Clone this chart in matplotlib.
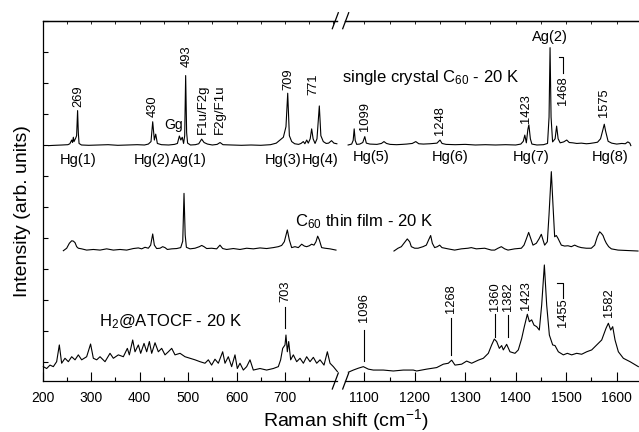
import numpy as np
import matplotlib

matplotlib.use("Agg")
import matplotlib.pyplot as plt
from matplotlib.lines import Line2D

# Spectra: (Raman shift in cm-1, intensity in arb. units).
# Each trace is stored relative to its own baseline; the vertical stacking is done when plotting.

# single crystal C60 - 20 K
crystal_low = [
    (212, -0.02), (225, -0.01), (240, 0.0), (252, 0.01), (256, 0.04), (259.8, 0.16),
    (261.5, 0.08), (263.2, 0.25), (264.6, 0.11), (268, 0.22), (270, 0.30), (272, 1.11),
    (273.5, 0.40), (275, 0.05), (280, 0.0), (295, -0.01), (315, 0.0), (335, 0.01),
    (355, -0.01), (375, 0.0), (395, 0.01), (410, 0.0), (418, 0.03), (423.5, 0.11),
    (427, 0.75), (430.4, 0.16), (433.2, 0.35), (436.6, 0.05), (445, 0.01), (460, 0.0),
    (472, 0.02), (478, 0.05), (482, 0.29), (485, 0.16), (488, 0.25), (490.7, 0.05),
    (493, 0.30), (495, 2.24), (497, 0.40), (499, 0.06), (505, 0.0), (515, 0.01),
    (522, 0.04), (528, 0.19), (533, 0.08), (540, 0.03), (550, 0.0), (560, 0.02),
    (566, 0.08), (572, 0.01), (590, 0.0), (610, -0.01), (630, 0.0), (650, -0.01),
    (670, 0.01), (682, 0.06), (689.7, 0.16), (696.6, 0.25), (702, 0.59), (705.6, 1.67),
    (709, 0.30), (713.8, 0.11), (720, 0.04), (728, 0.02), (733, 0.05), (737.8, 0.11),
    (741, 0.04), (744.8, 0.16), (748, 0.06), (752, 0.20), (755, 0.52), (758, 0.20),
    (762, 0.05), (766, 0.20), (770.8, 1.26), (774, 0.30), (779, 0.11), (785, 0.05),
    (790, 0.06), (796, 0.14), (801, 0.06), (807, 0.04),
]
crystal_high = [
    (1068, 0.0), (1075, 0.03), (1078, 0.15), (1080, 0.52), (1082, 0.15), (1085, 0.02),
    (1091, 0.03), (1097, 0.08), (1101, 0.27), (1104, 0.06), (1111, 0.03), (1125, 0.02),
    (1134, 0.05), (1139, 0.11), (1144, 0.05), (1151, 0.02), (1164, 0.01), (1175, 0.02),
    (1184, 0.03), (1195, 0.05), (1202, 0.11), (1208, 0.04), (1217, 0.03), (1230, 0.04),
    (1237, 0.05), (1244, 0.06), (1250, 0.16), (1254, 0.05), (1262, 0.02), (1280, 0.01),
    (1300, 0.02), (1320, 0.0), (1340, 0.01), (1360, 0.0), (1380, 0.01), (1400, 0.0),
    (1410, 0.03), (1415, 0.12), (1418, 0.32), (1421, 0.07), (1424, 0.50), (1426, 0.65),
    (1429, 0.20), (1432, 0.03), (1442, 0.0), (1455, 0.01), (1463, 0.05), (1466, 0.90),
    (1468, 3.14), (1470, 0.90), (1473, 0.10), (1478, 0.20), (1481, 0.61), (1484, 0.20),
    (1488, 0.07), (1495, 0.10), (1501, 0.16), (1506, 0.08), (1513, 0.07), (1521, 0.05),
    (1530, 0.06), (1540, 0.04), (1547, 0.05), (1555, 0.07), (1562, 0.09), (1568, 0.20),
    (1572, 0.45), (1575.4, 0.67), (1578, 0.45), (1583, 0.12), (1590, 0.06), (1600, 0.03),
    (1610, 0.05), (1617, 0.04), (1622, 0.10), (1626, 0.06), (1628, -0.02),
]

# C60 thin film - 20 K
film_low = [
    (242.6, -0.01), (249.5, 0.07), (255.0, 0.23), (259.8, 0.31), (263.2, 0.30), (266.7, 0.25),
    (270.1, 0.12), (273.5, 0.07), (280.4, 0.05), (290.7, 0.01), (304.5, 0.03), (318.3, 0.01),
    (332.0, 0.05), (345.8, 0.01), (359.5, 0.03), (373.3, 0.01), (387.0, 0.06), (397.4, 0.08),
    (404.2, 0.05), (411.1, 0.10), (418.0, 0.07), (422.8, 0.17), (427.0, 0.53), (430.4, 0.17),
    (435.2, 0.06), (442.1, 0.07), (447.6, 0.12), (452.4, 0.09), (457.2, 0.03), (466.2, 0.05),
    (476.5, 0.06), (484.8, 0.09), (489.0, 0.30), (491.6, 1.84), (494.0, 0.50), (496.5, 0.10),
    (504.0, 0.05), (514.3, 0.07), (523.3, 0.12), (528.1, 0.16), (532.9, 0.12), (538.4, 0.06),
    (548.6, 0.07), (559.0, 0.05), (565.8, 0.17), (571.4, 0.06), (579.6, 0.03), (593.4, 0.06),
    (607.1, 0.03), (620.9, 0.07), (634.6, 0.05), (648.4, 0.08), (662.1, 0.06), (675.9, 0.09),
    (686.2, 0.12), (693.1, 0.16), (698.6, 0.28), (704.8, 0.66), (708.9, 0.34), (713.7, 0.09),
    (720.6, 0.12), (727.5, 0.09), (734.4, 0.20), (739.9, 0.14), (744.7, 0.12), (750.2, 0.15),
    (755.0, 0.20), (759.8, 0.17), (763.9, 0.28), (767.4, 0.46), (770.8, 0.34), (775.6, 0.09),
    (782.5, 0.07), (792.8, 0.05), (805.2, 0.01),
]
film_high = [
    (1158.8, -0.02), (1166.8, 0.07), (1173.4, 0.12), (1180, 0.26), (1185.2, 0.37), (1189.9, 0.28),
    (1193.2, 0.12), (1199.8, 0.07), (1206.4, 0.07), (1216.3, 0.12), (1222.9, 0.17), (1227.5, 0.34),
    (1231.5, 0.48), (1234.8, 0.23), (1239.4, 0.09), (1244.7, 0.12), (1249.3, 0.17), (1253.9, 0.09),
    (1265.8, 0.05), (1279, 0.01), (1292.2, 0.05), (1305.4, 0.07), (1312, 0.09), (1321.9, 0.05),
    (1338.5, 0.07), (1351.6, 0.01), (1358.3, 0.01), (1364.9, 0.07), (1371.5, 0.12), (1378.1, 0.05),
    (1384.7, 0.01), (1397.9, 0.05), (1411.1, 0.07), (1416.4, 0.17), (1421, 0.37), (1425.6, 0.58),
    (1429.6, 0.39), (1434.2, 0.17), (1440.8, 0.23), (1446.1, 0.37), (1450.7, 0.52), (1454, 0.34),
    (1457.3, 0.17), (1462.6, 0.28), (1465.9, 1.14), (1470.5, 2.54), (1473.8, 1.46), (1477.1, 0.44),
    (1480.4, 0.48), (1483.7, 0.39), (1490.3, 0.17), (1496.9, 0.14), (1503.5, 0.15), (1510.1, 0.12),
    (1516.7, 0.17), (1523.3, 0.12), (1529.9, 0.09), (1539.8, 0.07), (1549.7, 0.07), (1556.4, 0.17),
    (1561.6, 0.44), (1566.3, 0.60), (1569.6, 0.55), (1572.9, 0.48), (1576.2, 0.34), (1579.5, 0.23),
    (1584.1, 0.12), (1589.4, 0.05), (1602.6, 0.01), (1615.8, 0.0), (1629, -0.01), (1642.2, -0.02),
]

# H2@ATOCF - 20 K
h2_low = [
    (201.3, -0.15), (208.2, -0.21), (215.1, -0.10), (221.9, -0.15), (228.8, 0.01), (234.3, 0.55),
    (239.1, -0.04), (246.0, 0.12), (252.9, 0.01), (259.8, 0.17), (266.7, 0.07), (273.5, 0.23),
    (280.4, 0.07), (290.7, 0.17), (298.8, 0.58), (304.5, 0.12), (311.4, 0.07), (318.3, 0.17),
    (328.6, 0.01), (338.9, 0.28), (345.8, 0.12), (356.1, 0.23), (366.4, 0.17), (374.7, 0.44),
    (378.8, 0.23), (385.7, 0.71), (390.5, 0.33), (397.4, 0.55), (402.2, 0.28), (409.1, 0.60),
    (414.6, 0.33), (420.1, 0.66), (424.9, 0.28), (431.8, 0.62), (438.6, 0.33), (445.5, 0.44),
    (452.4, 0.23), (459.3, 0.33), (466.2, 0.44), (473.0, 0.23), (483.4, 0.28), (493.7, 0.17),
    (504.0, 0.12), (514.3, 0.07), (524.6, 0.01), (534.9, -0.04), (541.8, 0.07), (548.6, -0.10),
    (555.5, 0.09), (562.4, -0.04), (571.4, 0.33), (576.2, -0.04), (583.0, 0.17), (589.9, -0.15),
    (596.8, 0.23), (601.6, -0.21), (607.1, -0.04), (614.0, -0.26), (620.9, -0.15), (627.8, 0.07),
    (634.6, -0.26), (648.4, -0.21), (662.1, -0.26), (675.9, -0.21), (686.2, -0.15), (691.0, 0.07),
    (695.2, 0.44), (700.0, 0.55), (702.0, 0.87), (704.8, 0.33), (707.6, 0.66), (711.7, 0.07),
    (717.2, 0.23), (724.1, 0.01), (731.0, 0.12), (737.9, -0.04), (744.7, 0.17), (751.6, 0.01),
    (758.5, 0.15), (765.4, -0.04), (772.3, 0.07), (780.5, -0.10), (787.4, 0.33), (792.9, -0.04),
    (799.8, -0.15), (808.1, -0.31),
]
h2_high = [
    (1068.4, -0.33), (1078.3, -0.26), (1088.2, -0.20), (1098.1, -0.15), (1108, -0.23),
    (1117.9, -0.26), (1137.7, -0.26), (1157.5, -0.29), (1177.3, -0.26), (1197.1, -0.26),
    (1203.7, -0.29), (1223.6, -0.23), (1243.4, -0.18), (1256.6, -0.07), (1266.5, -0.04),
    (1273.1, 0.06), (1279.7, -0.10), (1292.9, -0.07), (1302.8, 0.03), (1312.7, -0.04),
    (1325.9, 0.06), (1335.8, 0.12), (1345.7, 0.28), (1352.3, 0.55), (1357.6, 0.74),
    (1362.2, 0.66), (1367.5, 0.44), (1372.1, 0.53), (1375.4, 0.39), (1382, 0.57),
    (1388.6, 0.33), (1398.5, 0.28), (1405.1, 0.39), (1411.8, 0.76), (1417, 1.14),
    (1423, 1.54), (1427, 1.30), (1431.6, 1.36), (1436.2, 1.19), (1441.5, 1.14),
    (1446.7, 1.03), (1451.4, 1.84), (1456.7, 3.13), (1461.3, 1.84), (1466.6, 0.87),
    (1473.2, 0.55), (1477.8, 0.53), (1484.4, 0.33), (1494.3, 0.23), (1502.2, 0.28),
    (1510.8, 0.23), (1520.7, 0.28), (1530.6, 0.25), (1540.6, 0.33), (1550.5, 0.39),
    (1560.4, 0.55), (1570.3, 0.71), (1578.9, 1.09), (1583.5, 1.25), (1588.1, 1.03),
    (1592.1, 1.14), (1596.7, 0.71), (1603.3, 0.33), (1613.2, 0.12), (1626.4, 0.01),
    (1642.9, -0.15),
]

# vertical offset of each spectrum in the stack
offsets = {"crystal": 7.0, "film": 3.6, "h2": 0.0}

W, H = 639, 432  # canvas size in pixels


def fig_xy(px, py):
    """Pixel position on the canvas (origin top-left) -> figure fraction."""
    return px / W, 1 - py / H


def vlabel(ax, x, y, s, size=9.3):
    """Vertical peak label whose lower end sits at (x, y)."""
    ax.text(x, y, s, rotation=90, ha="center", va="bottom", fontsize=size)


def mode(ax, x, y, s):
    """Horizontal mode assignment label."""
    ax.text(x, y, s, ha="center", va="center", fontsize=10.5)


def leader(ax, xs, ys):
    ax.plot(xs, ys, color="black", lw=0.8, clip_on=False)


def plot_spectra():
    plt.rcParams["font.family"] = ["Liberation Sans", "DejaVu Sans"]
    plt.rcParams["mathtext.fontset"] = "custom"
    plt.rcParams["mathtext.rm"] = "Liberation Sans"
    plt.rcParams["mathtext.it"] = "Liberation Sans:italic"
    plt.rcParams["mathtext.default"] = "regular"

    fig = plt.figure(figsize=(W / 100, H / 100), dpi=100)

    # two panels that make up the broken x axis
    bottom, top = 381, 21
    ax_lo = fig.add_axes([42.7 / W, 1 - bottom / H, (337 - 42.7) / W, (bottom - top) / H])
    ax_hi = fig.add_axes([345 / W, 1 - bottom / H, (638 - 345) / W, (bottom - top) / H])

    ax_lo.set_xlim(200, 807.3)
    ax_hi.set_xlim(1061.8, 1642.2)
    for ax in (ax_lo, ax_hi):
        ax.set_ylim(-0.613, 11.0)
        ax.spines["right"].set_visible(False)
        for sp in ax.spines.values():
            sp.set_linewidth(0.9)
        ax.tick_params(axis="x", which="major", direction="in", length=6.5, width=0.8,
                       labelsize=10, pad=7.5)
        ax.tick_params(axis="x", which="minor", direction="in", length=3, width=0.8)
    ax_hi.spines["left"].set_visible(False)

    ax_lo.set_xticks(np.arange(200, 800, 100))
    ax_lo.set_xticks(np.arange(250, 800, 100), minor=True)
    ax_hi.set_xticks(np.arange(1100, 1700, 100))
    ax_hi.set_xticks(np.arange(1150, 1650, 100), minor=True)

    ax_lo.set_yticks(np.arange(0, 12))
    ax_lo.tick_params(axis="y", direction="in", length=3.5, width=0.8, labelleft=False)
    ax_hi.tick_params(axis="y", left=False, labelleft=False)

    # small ticks along the top spine
    for ax, step in ((ax_lo, 50), (ax_hi, 50)):
        sec = ax.secondary_xaxis("top")
        lo, hi = ax.get_xlim()
        sec.set_xticks(np.arange(np.ceil(lo / step) * step, hi, step))
        sec.tick_params(direction="in", length=2, width=0.6, labeltop=False)
        sec.spines["top"].set_linewidth(0.9)

    # spectra
    pairs = [
        (ax_lo, crystal_low, "crystal"), (ax_hi, crystal_high, "crystal"),
        (ax_lo, film_low, "film"), (ax_hi, film_high, "film"),
        (ax_lo, h2_low, "h2"), (ax_hi, h2_high, "h2"),
    ]
    for ax, trace, key in pairs:
        arr = np.array(trace)
        ax.plot(arr[:, 0], arr[:, 1] + offsets[key], color="black", lw=0.8, clip_on=False)

    # single crystal annotations
    for s, x, y in [("269", 272.8, 8.23), ("430", 427, 7.91), ("493", 497, 9.5),
                    ("709", 707, 8.77), ("771", 758.5, 8.6)]:
        vlabel(ax_lo, x, y, s)
    vlabel(ax_lo, 530, 7.37, "F1u/F2g", size=9.5)
    vlabel(ax_lo, 566, 7.37, "F2g/F1u", size=9.5)
    ax_lo.text(469.5, 7.63, "Gg", ha="center", va="center", fontsize=10)
    for s, x in [("Hg(1)", 273.5), ("Hg(2)", 425), ("Ag(1)", 502.5), ("Hg(3)", 696.5),
                 ("Hg(4)", 772.2)]:
        mode(ax_lo, x, 6.53, s)

    for s, x, y in [("1099", 1101, 7.45), ("1248", 1249, 7.32), ("1423", 1421, 7.7),
                    ("1575", 1575, 7.9), ("1468", 1494, 8.29)]:
        vlabel(ax_hi, x, y, s)
    leader(ax_hi, [1486.3, 1494.2, 1494.2], [9.85, 9.85, 9.31])
    for s, x in [("Hg(5)", 1113.3), ("Hg(6)", 1269.8), ("Hg(7)", 1429.6), ("Hg(8)", 1586.7)]:
        mode(ax_hi, x, 6.6, s)
    mode(ax_hi, 1468, 10.47, "Ag(2)")

    # H2@ATOCF annotations
    vlabel(ax_lo, 701, 1.95, "703")
    leader(ax_lo, [701, 701], [1.77, 1.09])
    for s, x, y, y0, y1 in [("1096", 1100, 1.30, 1.03, 0.03), ("1268", 1272, 1.58, 1.41, 0.23),
                            ("1360", 1359, 1.64, 1.56, 0.82), ("1382", 1384, 1.66, 1.52, 0.82)]:
        vlabel(ax_hi, x, y, s)
        leader(ax_hi, [x, x], [y0, y1])
    vlabel(ax_hi, 1421, 1.68, "1423")
    vlabel(ax_hi, 1584.7, 1.46, "1582")
    vlabel(ax_hi, 1494, 1.14, "1455")
    leader(ax_hi, [1481, 1494.2, 1494.2], [2.54, 2.54, 2.06])

    # sample names
    fig.text(*fig_xy(341.7, 81.7), "single crystal C$_{60}$ - 20 K", fontsize=12,
             ha="left", va="baseline")
    fig.text(*fig_xy(295, 226.5), "C$_{60}$ thin film - 20 K", fontsize=12,
             ha="left", va="baseline")
    fig.text(*fig_xy(99, 326.7), "H$_2$@ATOCF - 20 K", fontsize=12,
             ha="left", va="baseline")

    # axis titles
    fig.text(*fig_xy(22.5, 211), "Intensity (arb. units)", rotation=90, fontsize=14,
             ha="center", va="center")
    fig.text(*fig_xy(345.5, 426), "Raman shift (cm$^{-1}$)", fontsize=14,
             ha="center", va="baseline")

    # break marks on top and bottom spines
    for cx in (335.3, 345.7):
        for sy in (20.7, 381):
            x0, y0 = fig_xy(cx - 3, sy + 8)
            x1, y1 = fig_xy(cx + 3, sy - 8)
            fig.add_artist(Line2D([x0, x1], [y0, y1], color="black", lw=0.9,
                                  transform=fig.transFigure))

    fig.savefig("out.png", dpi=100)


if __name__ == "__main__":
    plot_spectra()
